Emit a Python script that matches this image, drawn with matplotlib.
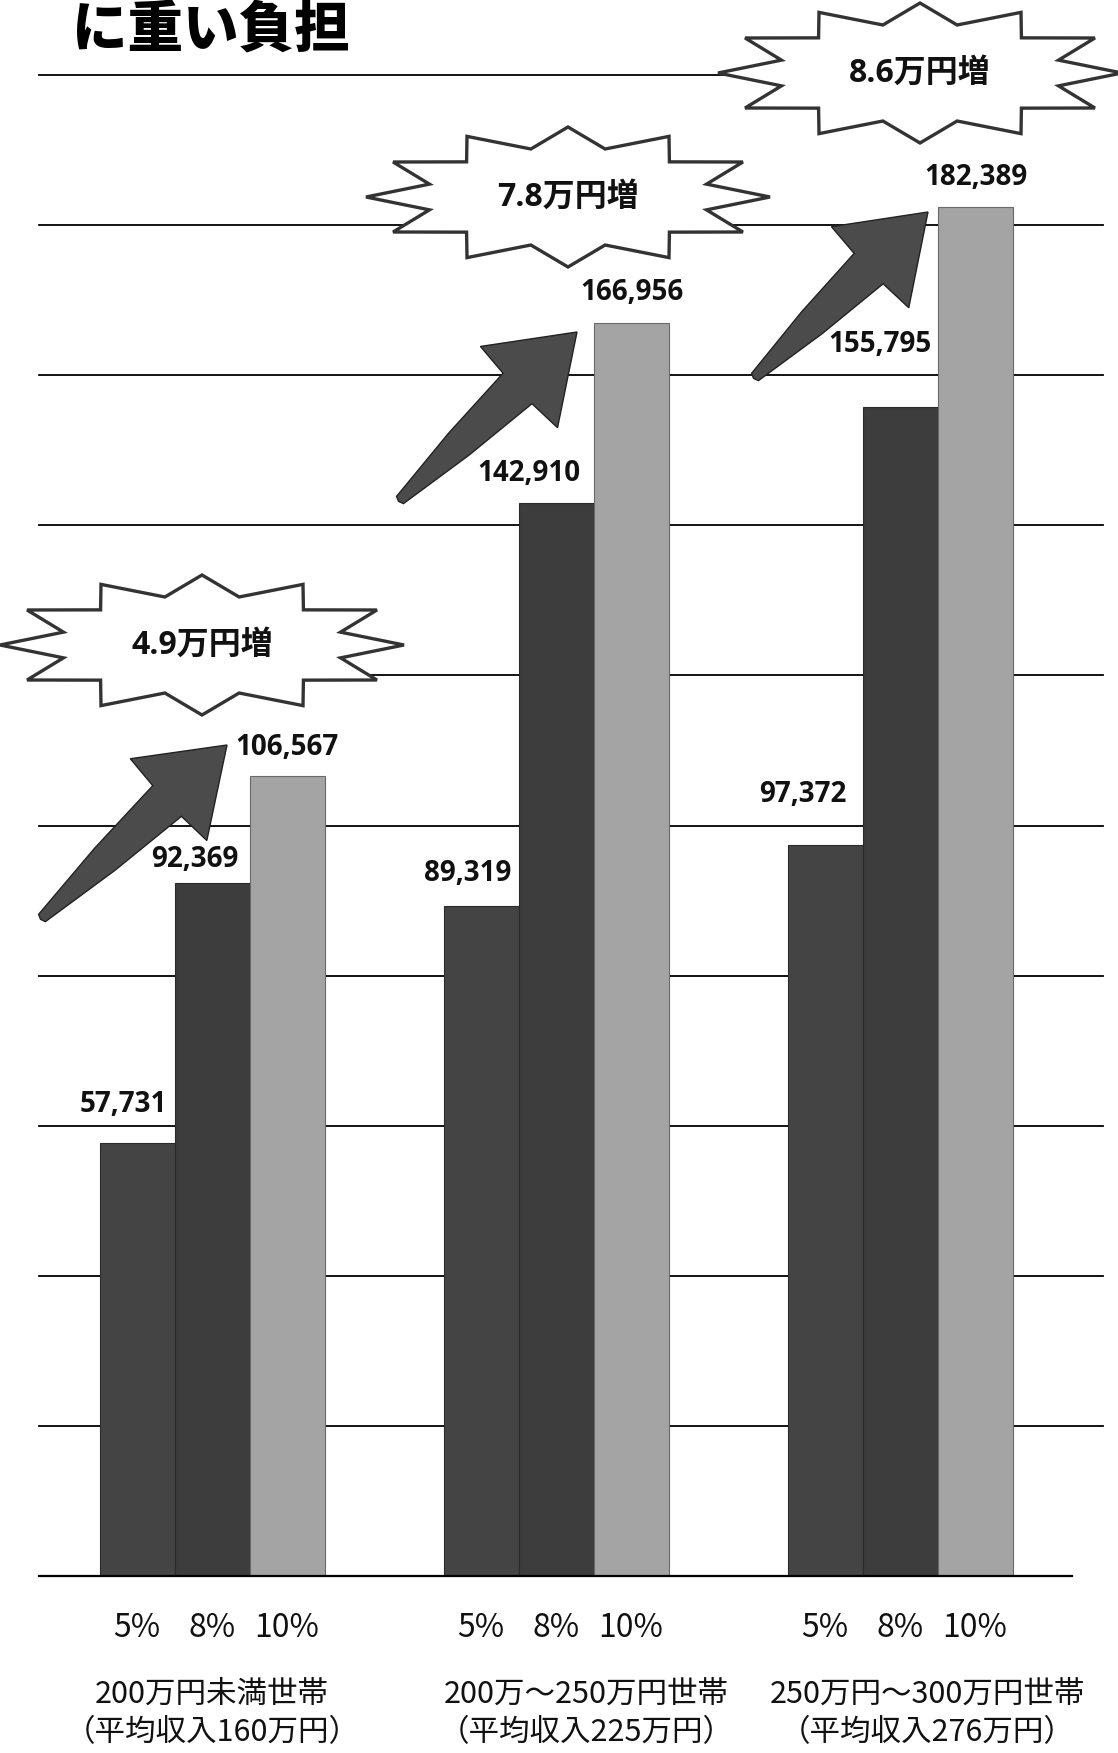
import numpy as np
import matplotlib
matplotlib.use("Agg")
import matplotlib.pyplot as plt
from matplotlib.patches import Polygon

plt.rcParams['font.family'] = ['Noto Sans CJK JP', 'DejaVu Sans']

# ---------------- data ----------------
title = "に重い負担"
groups = ["200万円未満世帯\n（平均収入160万円）",
          "200万～250万円世帯\n（平均収入225万円）",
          "250万円～300万円世帯\n（平均収入276万円）"]
rates = ["5%", "8%", "10%"]
burden_5 = [57731, 89319, 97372]
burden_8 = [92369, 142910, 155795]
burden_10 = [106567, 166956, 182389]
increase_labels = ["4.9万円増", "7.8万円増", "8.6万円増"]
y_max = 200000
y_step = 20000

# ---------------- styles / layout ----------------
W, H = 1118, 1753
bar_colors = ['#444444', '#3d3d3d', '#a4a4a4']
bar_edges = ['#2a2a2a', '#2a2a2a', '#6a6a6a']
bar_width = 0.218
bar_offsets = [-0.218, 0.0, 0.218]
# value-label offsets (pixels) relative to bar top centre, per series, per group
label_offsets = [
    [(-14, 38), (-13, 32), (-22, 51)],
    [(-17, 23), (-27, 30), (-20, 62)],
    [(0, 29), (1, 30), (1, 30)],
]
group_label_dx = [0, 30, 27]
# decorations in figure pixels (from top-left)
star_centers = [(202, 645), (568, 197), (920, 73)]
star_rx, star_ry = 202, 70
arrows = [((42, 918), (227, 745)), ((400, 500), (577, 332)), ((755, 377), (928, 212))]

fig = plt.figure(figsize=(W / 100, H / 100), dpi=100)
fig.patch.set_facecolor('white')

ax_l, ax_r, ax_t, ax_b = 39, 1103, 75, 1576
ax = fig.add_axes([ax_l / W, (H - ax_b) / H, (ax_r - ax_l) / W, (ax_b - ax_t) / H])
ax.set_ylim(0, y_max)
ax.set_xlim(-0.503, 2.59)
for s in ax.spines.values():
    s.set_visible(False)
ax.set_yticks([])

x = np.arange(len(groups))
series = [burden_5, burden_8, burden_10]
for si, vals in enumerate(series):
    ax.bar(x + bar_offsets[si], vals, width=bar_width, color=bar_colors[si],
           edgecolor=bar_edges[si], linewidth=0.8, zorder=2)
    for gi, v in enumerate(vals):
        dx, dy = label_offsets[si][gi]
        ax.annotate(f"{v:,}", xy=(x[gi] + bar_offsets[si], v), xytext=(dx, dy),
                    textcoords='offset pixels', ha='center', va='center',
                    fontsize=20, fontweight='bold', family=['Open Sans', 'DejaVu Sans'],
                    color='#111111', zorder=5)

# gridlines
for v in range(y_step, y_max + 1, y_step):
    ax.axhline(v, color='black', lw=1.3, zorder=0, clip_on=False)
ax.axhline(0, xmin=0, xmax=(1072 - ax_l) / (ax_r - ax_l), color='black', lw=1.6,
           zorder=3, clip_on=False)

# ticks
tick_pos = np.concatenate([x[gi] + np.array(bar_offsets) for gi in range(len(groups))])
ax.set_xticks(tick_pos)
ax.set_xticklabels(rates * len(groups))
ax.tick_params(axis='x', length=0, pad=26, labelsize=23, labelcolor='#111111')

for gi, g in enumerate(groups):
    ax.annotate(g, xy=(x[gi], 0), xycoords=('data', 'axes fraction'),
                xytext=(group_label_dx[gi], -137), textcoords='offset pixels',
                ha='center', va='center', fontsize=22, linespacing=1.3,
                color='#111111', annotation_clip=False)

def to_fig(pts):
    pts = np.asarray(pts, dtype=float)
    return np.column_stack([pts[:, 0] / W, 1 - pts[:, 1] / H])

# arrows
for (tail, tip) in arrows:
    tail = np.array(tail, float); tip = np.array(tip, float)
    L = np.linalg.norm(tip - tail)
    u = (tip - tail) / L
    n = np.array([u[1], -u[0]])
    base = tip - u * 82
    corner = tip - u * 80
    mid = tail + u * (L - 82) * 0.5
    pts = [tail - u * 2, tail + n * 5, mid + n * 15, base + n * 21, corner + n * 56, tip,
           corner - n * 56, base - n * 21, mid - n * 15, tail - n * 5]
    fig.add_artist(Polygon(to_fig(pts), closed=True, transform=fig.transFigure,
                           facecolor='#4b4b4b', edgecolor='#222222', lw=1.0, zorder=4))

# starbursts
ang = np.deg2rad(np.arange(24) * 15.0)
rad = np.where(np.arange(24) % 2 == 0, 1.0, 0.71)
for (cx, cy), lab in zip(star_centers, increase_labels):
    pts = np.column_stack([cx + star_rx * rad * np.cos(ang), cy - star_ry * rad * np.sin(ang)])
    fig.add_artist(Polygon(to_fig(pts), closed=True, transform=fig.transFigure,
                           facecolor='white', edgecolor='#333333', lw=2.4, zorder=5,
                           joinstyle='miter'))
    fig.text(cx / W, 1 - cy / H, lab, ha='center', va='center', fontsize=23,
             fontweight='bold', family=['Open Sans', 'Noto Sans CJK JP'],
             color='#111111', zorder=6)

fig.text(72 / W, 1 - 31 / H, title, ha='left', va='center', fontsize=40,
         fontweight='heavy', color='black')

fig.savefig('out.png', dpi=100, facecolor='white')
